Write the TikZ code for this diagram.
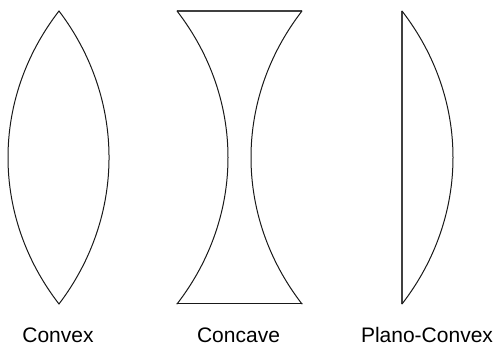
\documentclass[tikz,border=0pt]{standalone}
\usepackage{fontspec}
\setmainfont{Liberation Sans}
\tikzset{
  lensline/.style={draw=black!90,line width=1pt,line join=round,line cap=round},
  flatline/.style={draw=black!75,line width=1.2pt},
  lenslabel/.style={anchor=base,inner sep=0pt,text depth=0pt,font=\fontsize{21}{24}\selectfont,text=black}
}
\begin{document}
\begin{tikzpicture}[x=1pt,y=-1pt]
\useasboundingbox (0,0) rectangle (495,344);
% Convex
\draw[lensline] (59,11) .. controls (-9,98.9) and (-9,216.1) .. (59,304);
\draw[lensline] (59,11) .. controls (125.7,98.9) and (125.7,216.1) .. (59,304);
% Concave
\draw[flatline] (177,11) -- (302,11);
\draw[lensline] (177,304) -- (302,304);
\draw[lensline] (177,11) .. controls (245,98.9) and (245,216.1) .. (177,304);
\draw[lensline] (302,11) .. controls (234,98.9) and (234,216.1) .. (302,304);
% Plano-convex
\draw[flatline] (402,11) -- (402,304);
\draw[lensline] (402,11) .. controls (470,98.9) and (470,216.1) .. (402,304);
% Labels
\node[lenslabel] (convex) at (58,342) {Convex};
\node[lenslabel] (concave) at (238.5,342) {Concave};
\node[lenslabel] (plano) at (427,342) {Plano-Convex};
\end{tikzpicture}
\end{document}
